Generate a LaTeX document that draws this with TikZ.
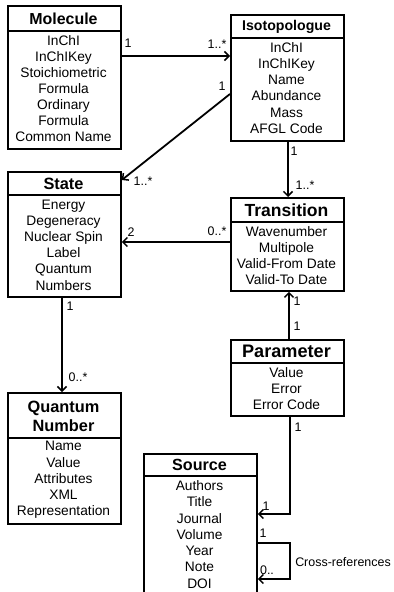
\documentclass[tikz,border=0pt]{standalone}
\usepackage{fontspec}
\setmainfont{Liberation Sans}
\usetikzlibrary{arrows.meta}
\tikzset{
  cls/.style={draw, line width=1.8bp, minimum width=113bp, inner sep=0pt, anchor=north west},
  divl/.style={line width=1.6bp},
  hdr/.style={font=\bfseries\fontsize{#1}{#1}\selectfont, inner sep=0pt},
  items/.style={font=\fontsize{13.8}{#1}\selectfont, align=center, inner sep=0pt},
  conn/.style={line width=1.8bp, -{Straight Barb[length=4.5bp,width=9bp,line width=1.5bp]}},
  plainconn/.style={line width=1.8bp},
  mult/.style={font=\fontsize{12.5}{13}\selectfont, inner sep=0pt},
}
\begin{document}
\begin{tikzpicture}[x=1bp,y=-1bp]
\useasboundingbox (0,0) rectangle (393,592);
% Molecule
\node[cls, minimum height=143bp] (mol) at (7,5) {};
\draw[divl] (mol.west |- 0,31) -- (mol.east |- 0,31);
\node[hdr=16] (molh) at (63.5,19) {Molecule};
\node[items=16] (mola) at (63.5,88.5) {InChI\\InChIKey\\Stoichiometric\\Formula\\Ordinary\\Formula\\Common Name};
% Isotopologue
\node[cls, minimum height=126bp] (iso) at (230,14) {};
\draw[divl] (iso.west |- 0,38) -- (iso.east |- 0,38);
\node[hdr=14.2] (isoh) at (286.5,26.5) {Isotopologue};
\node[items=16.2] (isoa) at (286.5,88) {InChI\\InChIKey\\Name\\Abundance\\Mass\\AFGL Code};
% State
\node[cls, minimum height=125bp] (state) at (7,171) {};
\draw[divl] (state.west |- 0,195) -- (state.east |- 0,195);
\node[hdr=16.4] (stateh) at (63.5,184) {State};
\node[items=16.2] (statea) at (63.5,245) {Energy\\Degeneracy\\Nuclear Spin\\Label\\Quantum\\Numbers};
% Transition
\node[cls, minimum height=93bp] (trans) at (230,197) {};
\draw[divl] (trans.west |- 0,222) -- (trans.east |- 0,222);
\node[hdr=17.6] (transh) at (286.5,210.5) {Transition};
\node[items=16] (transa) at (286.5,255.5) {Wavenumber\\Multipole\\Valid-From Date\\Valid-To Date};
% Parameter
\node[cls, minimum height=76bp] (param) at (230,339) {};
\draw[divl] (param.west |- 0,363) -- (param.east |- 0,363);
\node[hdr=18.2] (paramh) at (286.5,351.5) {Parameter};
\node[items=16] (parama) at (286.5,388.5) {Value\\Error\\Error Code};
% Quantum Number
\node[cls, minimum height=131bp] (qn) at (7,392) {};
\draw[divl] (qn.west |- 0,438) -- (qn.east |- 0,438);
\node[hdr=16.4, align=center, font=\bfseries\fontsize{16.4}{19}\selectfont] (qnh) at (63.5,416) {Quantum\\Number};
\node[items=16.25] (qna) at (63.5,480) {Name\\Value\\Attributes\\XML\\Representation};
% Source
\node[cls, minimum height=142bp] (src) at (143,453) {};
\draw[divl] (src.west |- 0,476) -- (src.east |- 0,476);
\node[hdr=16.2] (srch) at (199.5,464.5) {Source};
\node[items=16.33] (srca) at (199.5,534.5) {Authors\\Title\\Journal\\Volume\\Year\\Note\\DOI};
% connectors
\draw[conn] (mol.east |- 0,56) -- (iso.west |- 0,56);
\draw[conn] (iso.west |- 0,94) -- (state.east |- 0,180);
\draw[conn] (iso.south -| 288,0) -- (trans.north -| 288,0);
\draw[conn] (trans.west |- 0,242) -- (state.east |- 0,242);
\draw[conn] (state.south -| 62,0) -- (qn.north -| 62,0);
\draw[conn] (param.north -| 289,0) -- (trans.south -| 289,0);
\draw[conn] (param.south -| 290,0) |- (src.east |- 0,514);
\coordinate (loopr) at (290,561);
\draw[conn] (src.east |- 0,543) -| (loopr) |- (src.east |- 0,579);
% multiplicities
\node[mult] (m1) at (128,43) {1};
\node[mult] (m2) at (217,44) {1..*};
\node[mult] (m3) at (222,86) {1};
\node[mult] (m4) at (143,181) {1..*};
\node[mult] (m5) at (294,151) {1};
\node[mult] (m6) at (305,185) {1..*};
\node[mult] (m7) at (217,231) {0..*};
\node[mult] (m8) at (131,232) {2};
\node[mult] (m9) at (70,306) {1};
\node[mult] (m10) at (78,377) {0..*};
\node[mult] (m11) at (297,301) {1};
\node[mult] (m12) at (297,326) {1};
\node[mult] (m13) at (298,427) {1};
\node[mult] (m14) at (266,506) {1};
\node[mult] (m15) at (263,533) {1};
\node[mult] (m16) at (267,570) {0..};
\node[mult] (xref) at (343,562) {Cross-references};
\end{tikzpicture}
\end{document}
